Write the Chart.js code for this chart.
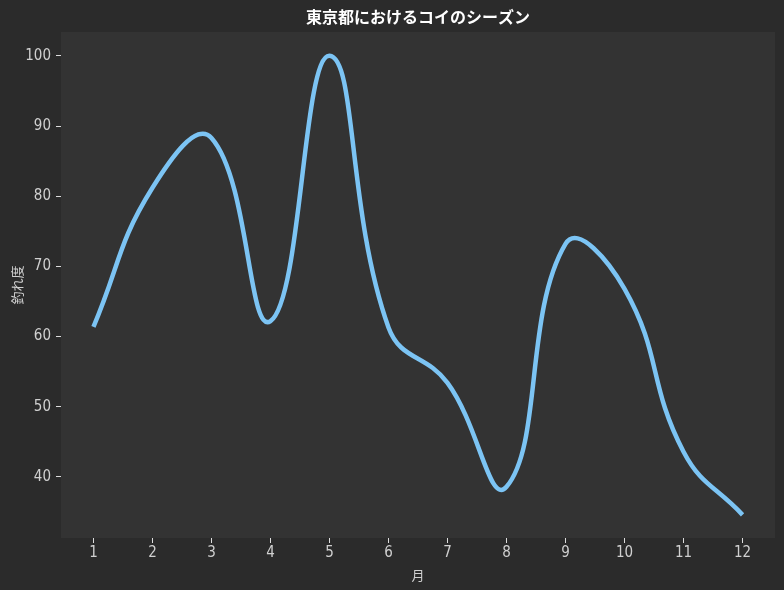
<!DOCTYPE html>
<html>
<head>
<meta charset="utf-8">
<script src="https://cdn.jsdelivr.net/npm/chart.js@4/dist/chart.umd.min.js"></script>
<style>
  body { margin: 0; background: #2b2b2b; }
  #wrap { width: 784px; height: 590px; }
</style>
</head>
<body>
<div id="wrap"><canvas id="koiChart" width="784" height="590"></canvas></div>
<script>
// data
var months = [1, 2, 3, 4, 5, 6, 7, 8, 9, 10, 11, 12];
var catchRate = [61.4, 81.2, 88.3, 62.2, 100, 61.3, 53.4, 38.6, 73.2, 66.8, 43.6, 34.6];
var yTicks = [40, 50, 60, 70, 80, 90, 100];
var chartTitle = '東京都におけるコイのシーズン';

var cjkFont = "'Noto Sans CJK JP', 'Noto Sans', sans-serif";
var tickFont = "'DejaVu Sans Condensed', 'Noto Sans CJK JP', sans-serif";

// backgrounds, and the title centred over the plot area
var plotBg = {
    id: 'plotBg',
    beforeDraw: function(chart) {
        var c = chart.ctx, a = chart.chartArea;
        c.save();
        c.fillStyle = '#2b2b2b';
        c.fillRect(0, 0, chart.width, chart.height);
        c.fillStyle = '#333333';
        c.fillRect(a.left, a.top, a.right - a.left, a.bottom - a.top);
        c.restore();
    },
    afterDraw: function(chart) {
        var c = chart.ctx, a = chart.chartArea;
        c.save();
        c.fillStyle = '#ffffff';
        c.font = 'bold 16px ' + cjkFont;
        c.textAlign = 'center';
        c.textBaseline = 'middle';
        c.fillText(chartTitle, (a.left + a.right) / 2, 17);
        c.restore();
    }
};

var ctx = document.getElementById('koiChart').getContext('2d');
var koiChart = new Chart(ctx, {
    type: 'line',
    data: {
        datasets: [{
            label: '釣れ度',
            data: months.map(function(m, i) { return { x: m, y: catchRate[i] }; }),
            borderColor: '#7cc4f4',
            borderWidth: 4.5,
            pointRadius: 0,
            tension: 0.45,
            fill: false
        }]
    },
    options: {
        responsive: false,
        animation: false,
        layout: { padding: { left: 0, right: 9, top: 32, bottom: 0 } },
        plugins: {
            legend: { display: false },
            tooltip: { enabled: false },
            title: { display: false }
        },
        scales: {
            x: {
                type: 'linear',
                min: 0.45,
                max: 12.55,
                afterBuildTicks: function(axis) {
                    axis.ticks = months.map(function(v) { return { value: v }; });
                },
                afterFit: function(scale) { scale.height = 52; },
                border: { display: false },
                grid: { drawOnChartArea: false, drawTicks: true, tickLength: 5, color: '#dddddd' },
                ticks: { color: '#d0d0d0', padding: 1, maxRotation: 0, font: { family: tickFont, size: 15 } },
                title: {
                    display: true,
                    text: '月',
                    color: '#d0d0d0',
                    font: { family: cjkFont, size: 13 },
                    padding: { top: 0, bottom: 7 }
                }
            },
            y: {
                min: 31.3,
                max: 103.4,
                afterBuildTicks: function(axis) {
                    axis.ticks = yTicks.map(function(v) { return { value: v }; });
                },
                afterFit: function(scale) { scale.width = 61; },
                border: { display: false },
                grid: { drawOnChartArea: false, drawTicks: true, tickLength: 5, color: '#dddddd' },
                ticks: { color: '#d0d0d0', padding: 5, font: { family: tickFont, size: 15 } },
                title: {
                    display: true,
                    text: '釣れ度',
                    color: '#d0d0d0',
                    font: { family: cjkFont, size: 13 },
                    padding: { top: 9, bottom: 0 }
                }
            }
        }
    },
    plugins: [plotBg]
});
</script>
</body>
</html>
